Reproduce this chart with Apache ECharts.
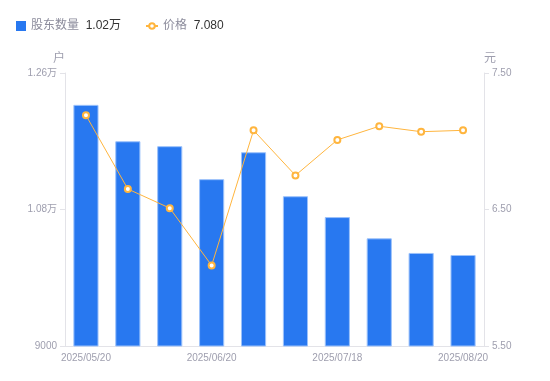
<!DOCTYPE html>
<html><head><meta charset="utf-8">
<script src="https://cdn.jsdelivr.net/npm/echarts@6/dist/echarts.min.js"></script>
<style>html,body{margin:0;padding:0;background:#fff}#c{width:550px;height:381px}</style>
</head><body><div id="c"></div>
<script>
var categories = ['2025/05/20','2025/05/30','2025/06/10','2025/06/20','2025/06/30','2025/07/10','2025/07/18','2025/07/31','2025/08/10','2025/08/20'];
var holders = [12180, 11700, 11635, 11200, 11555, 10975, 10700, 10420, 10227, 10200];
var prices = [7.19, 6.65, 6.51, 6.09, 7.08, 6.75, 7.01, 7.11, 7.07, 7.08];
var leftTicks = {min: 9000, max: 12600, interval: 1800};
var rightTicks = {min: 5.5, max: 7.5, interval: 1};

function fmtWan(v){ return v >= 10000 ? (v/10000).toFixed(2) + '万' : String(v); }

var chart = echarts.init(document.getElementById('c'), null, {renderer:'canvas'});
var labelColor = '#9e9eae';
var ff = '"Liberation Sans", Arial, "Noto Sans CJK SC", sans-serif';
chart.setOption({
  animation: false,
  textStyle: {fontFamily: ff},
  legend: [{
    left: 11, top: 15, itemWidth: 10, itemHeight: 10,
    data: [{name: '股东数量', icon: 'rect'}],
    itemStyle: {borderWidth: 0},
    formatter: function(n){ return '{a|' + n + '}  {b|' + fmtWan(holders[holders.length-1]) + '}'; },
    textStyle: {fontFamily: ff, rich: {a: {color: '#8c8c9c', fontSize: 12, fontFamily: ff}, b: {color: '#333', fontSize: 12, fontFamily: ff}}}
  }, {
    left: 140, top: 15, itemWidth: 12, itemHeight: 7,
    data: ['价格'],
    formatter: function(n){ return '{a|' + n + '}  {b|' + prices[prices.length-1].toFixed(3) + '}'; },
    textStyle: {fontFamily: ff, rich: {a: {color: '#8c8c9c', fontSize: 12, fontFamily: ff}, b: {color: '#333', fontSize: 12, fontFamily: ff}}}
  }],
  grid: {left: 65, right: 66, top: 73, bottom: 35},
  xAxis: {
    type: 'category', data: categories,
    axisLine: {lineStyle: {color: '#e3e3e8'}},
    axisTick: {show: false},
    axisLabel: {color: labelColor, fontSize: 10, interval: 2, margin: 7}
  },
  yAxis: [{
    type: 'value', min: leftTicks.min, max: leftTicks.max, interval: leftTicks.interval,
    name: '户', nameGap: 8, nameTextStyle: {color: labelColor, fontSize: 12, align: 'right'},
    axisLine: {show: true, lineStyle: {color: '#e3e3e8'}},
    axisTick: {show: true, length: 5, lineStyle: {color: '#e3e3e8'}},
    splitLine: {show: false},
    axisLabel: {color: labelColor, fontSize: 10, margin: 8, formatter: fmtWan}
  }, {
    type: 'value', min: rightTicks.min, max: rightTicks.max, interval: rightTicks.interval,
    name: '元', nameGap: 8, nameTextStyle: {color: labelColor, fontSize: 12, align: 'left'},
    axisLine: {show: true, lineStyle: {color: '#e3e3e8'}},
    axisTick: {show: true, length: 5, lineStyle: {color: '#e3e3e8'}},
    splitLine: {show: false},
    axisLabel: {color: labelColor, fontSize: 10, margin: 8, formatter: function(v){ return v.toFixed(2); }}
  }],
  series: [{
    name: '股东数量', type: 'bar', data: holders, barWidth: '60%',
    itemStyle: {color: '#2878f0', borderColor: '#9cc2fb', borderWidth: 1}
  }, {
    name: '价格', type: 'line', yAxisIndex: 1, data: prices,
    symbol: 'emptyCircle', symbolSize: 6,
    lineStyle: {color: '#ffb53e', width: 1},
    itemStyle: {color: '#ffb53e', borderWidth: 2}
  }]
});
</script></body></html>
